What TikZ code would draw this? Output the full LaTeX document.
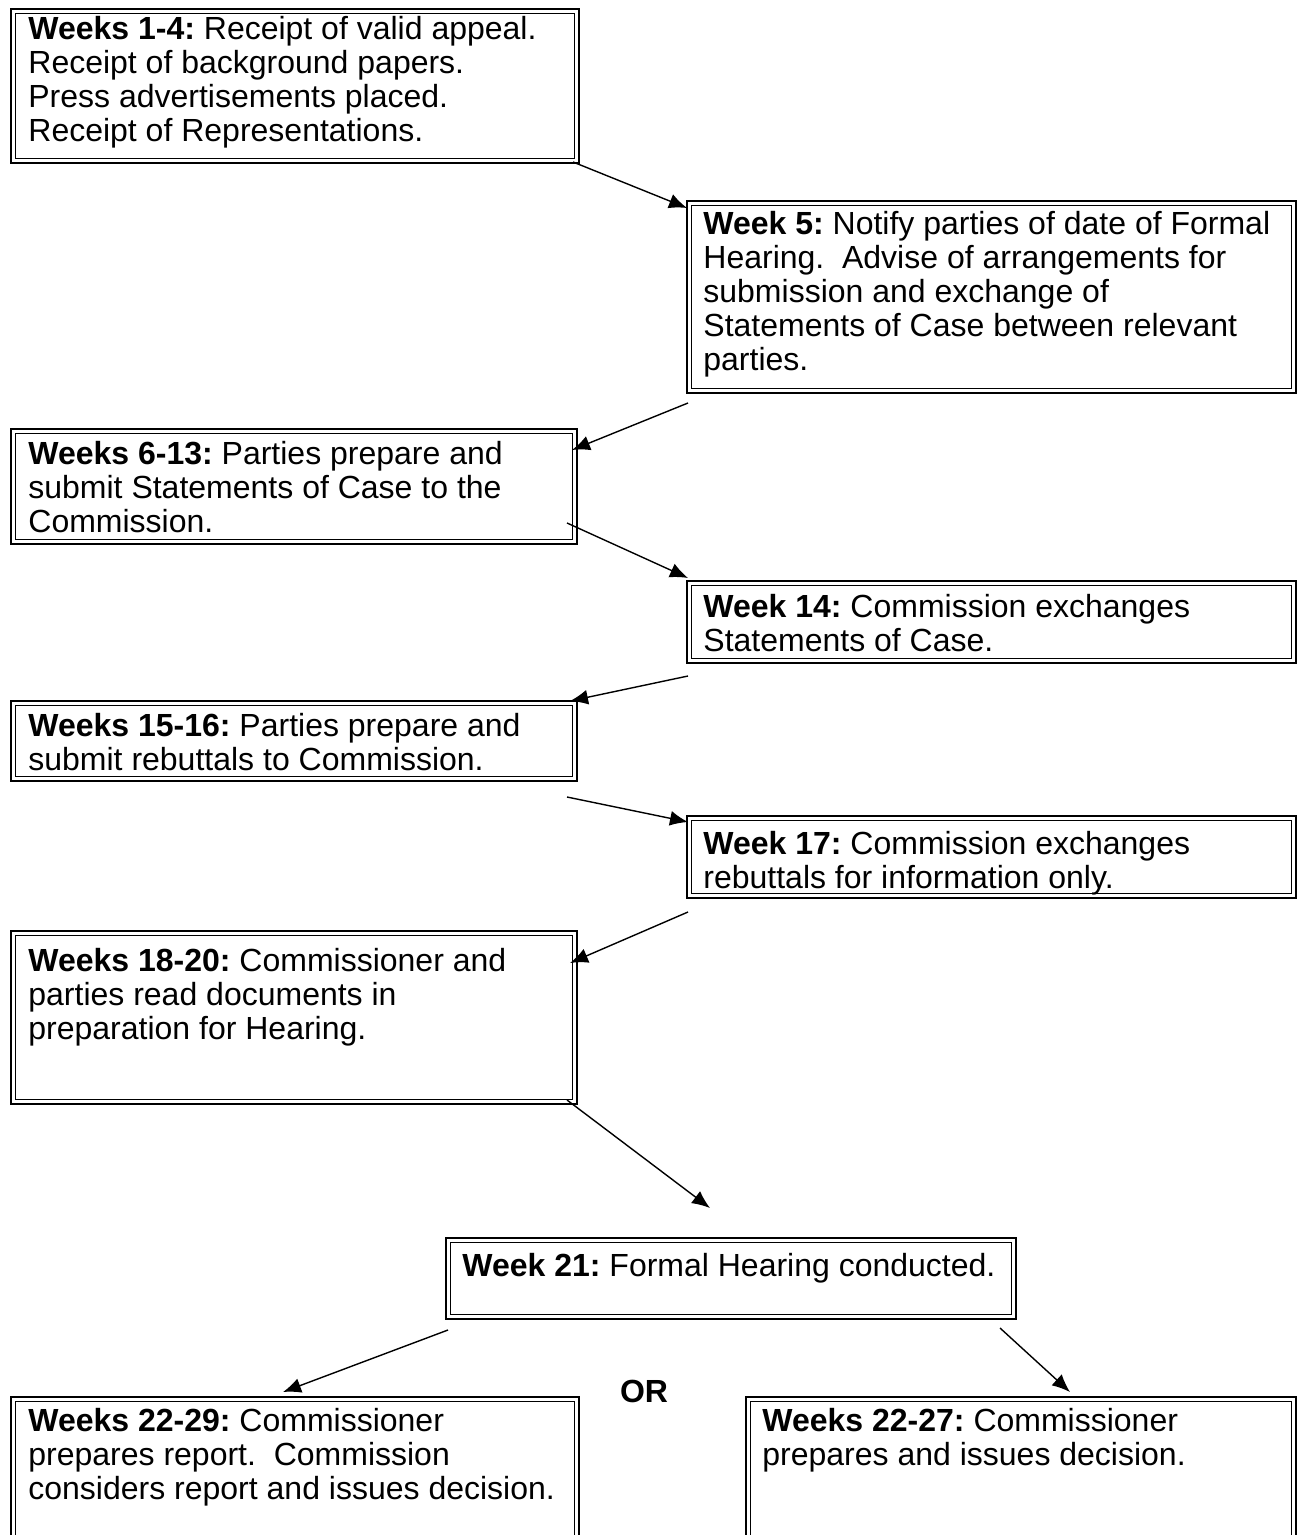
\documentclass[tikz,border=0pt]{standalone}
\usepackage{fontspec}
\setmainfont{Liberation Sans}
\usetikzlibrary{arrows.meta}
\newcommand\fs{\fontsize{16}{17}\selectfont\frenchspacing}
\tikzset{
  dbox/.style={draw, line width=1.2pt, inner sep=0pt, anchor=north west,
    path picture={\draw[line width=0.5pt]
      ([xshift=2.2pt,yshift=-2.2pt]path picture bounding box.north west) rectangle
      ([xshift=-2.2pt,yshift=2.2pt]path picture bounding box.south east);}},
  txt/.style={anchor=north west, inner sep=0pt, align=left, font=\fs},
  arr/.style={line width=0.7pt, -{Latex[length=9pt,width=7.5pt]}}
}
\begin{document}
\begin{tikzpicture}[x=0.5pt,y=-0.5pt]
\useasboundingbox (0,0) rectangle (1298,1535);
\clip (0,0) rectangle (1298,1535);
\fill[white] (0,0) rectangle (1298,1535);

% boxes
\node[dbox, minimum width=284pt,   minimum height=77pt]   (b1)  at (10,8)     {};
\node[dbox, minimum width=304.5pt, minimum height=96pt]   (b2)  at (686,200)  {};
\node[dbox, minimum width=283pt,   minimum height=57.5pt] (b3)  at (10,428)   {};
\node[dbox, minimum width=304.5pt, minimum height=41pt]   (b4)  at (686,580)  {};
\node[dbox, minimum width=283pt,   minimum height=40pt]   (b5)  at (10,700)   {};
\node[dbox, minimum width=304.5pt, minimum height=41pt]   (b6)  at (686,815)  {};
\node[dbox, minimum width=283pt,   minimum height=86.5pt] (b7)  at (10,930)   {};
\node[dbox, minimum width=285pt,   minimum height=40.5pt] (b8)  at (445,1237) {};
\node[dbox, minimum width=284pt,   minimum height=100pt]  (b9)  at (10,1396)  {};
\node[dbox, minimum width=275pt,   minimum height=100pt]  (b10) at (745,1396) {};

% texts
\node[txt] (t1) at (28,16) {\textbf{Weeks 1-4:} Receipt of valid appeal.\\Receipt of background papers.\\Press advertisements placed.\\Receipt of Representations.};
\node[txt] (t2) at (703,211) {\textbf{Week 5:} Notify parties of date of Formal\\Hearing.\ \ Advise of arrangements for\\submission and exchange of\\Statements of Case between relevant\\parties.};
\node[txt] (t3) at (28,441) {\textbf{Weeks 6-13:} Parties prepare and\\submit Statements of Case to the\\Commission.};
\node[txt] (t4) at (703,594) {\textbf{Week 14:} Commission exchanges\\Statements of Case.};
\node[txt] (t5) at (28,713) {\textbf{Weeks 15-16:} Parties prepare and\\submit rebuttals to Commission.};
\node[txt] (t6) at (703,831) {\textbf{Week 17:} Commission exchanges\\rebuttals for information only.};
\node[txt] (t7) at (28,948) {\textbf{Weeks 18-20:} Commissioner and\\parties read documents in\\preparation for Hearing.};
\node[txt] (t8) at (462,1253) {\textbf{Week 21:} Formal Hearing conducted.};
\node[txt] (t9) at (28,1408) {\textbf{Weeks 22-29:} Commissioner\\prepares report.\ \ Commission\\considers report and issues decision.};
\node[txt] (t10) at (762,1408) {\textbf{Weeks 22-27:} Commissioner\\prepares and issues decision.};
\node[txt, anchor=north] (or) at (644,1380) {\textbf{OR}};

% connector ends
\coordinate (a1s) at (573,162);  \coordinate (a1e) at (687,208);
\coordinate (a2s) at (688,403);  \coordinate (a2e) at (572,450);
\coordinate (a3s) at (567,523);  \coordinate (a3e) at (688,578);
\coordinate (a4s) at (688,676);  \coordinate (a4e) at (570,701);
\coordinate (a5s) at (567,797);  \coordinate (a5e) at (688,822);
\coordinate (a6s) at (688,912);  \coordinate (a6e) at (570,963);
\coordinate (a7s) at (567,1100); \coordinate (a7e) at (710,1208);
\coordinate (a8s) at (448,1330); \coordinate (a8e) at (283,1392);
\coordinate (a9s) at (1000,1328);\coordinate (a9e) at (1070,1392);

\draw[arr] (a1s) -- (a1e);
\draw[arr] (a2s) -- (a2e);
\draw[arr] (a3s) -- (a3e);
\draw[arr] (a4s) -- (a4e);
\draw[arr] (a5s) -- (a5e);
\draw[arr] (a6s) -- (a6e);
\draw[arr] (a7s) -- (a7e);
\draw[arr] (a8s) -- (a8e);
\draw[arr] (a9s) -- (a9e);
\end{tikzpicture}
\end{document}
